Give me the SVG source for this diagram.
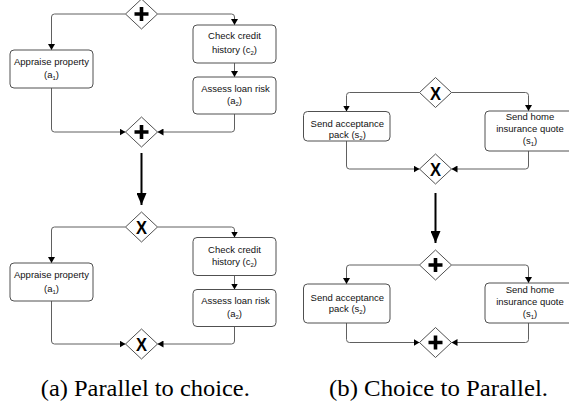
<svg xmlns="http://www.w3.org/2000/svg" width="569" height="407" viewBox="0 0 569 407">
<defs>
<style>
.box{fill:#fff;stroke:#505050;stroke-width:1}
.gw{fill:#fff;stroke:#505050;stroke-width:1}
.plus{stroke:#000;stroke-width:3.6;fill:none}
.xm{font-family:"Liberation Sans",Arial,sans-serif;font-weight:bold;font-size:19px;fill:#000;text-anchor:middle}
.con{fill:none;stroke:#606060;stroke-width:1}
.big{fill:none;stroke:#000;stroke-width:2}
.t{font-family:"Liberation Sans",Arial,sans-serif;font-size:9.5px;fill:#111;text-anchor:middle}
.sub{font-size:6px}
.cap{font-family:"Liberation Serif","Times New Roman",serif;font-size:23.5px;fill:#000;text-anchor:middle}
</style>
<marker id="ah" markerWidth="7" markerHeight="7" refX="6" refY="3.5" orient="auto" markerUnits="userSpaceOnUse">
<path d="M0,0 L6,3.5 L0,7 Z" fill="#000"/>
</marker>
<marker id="bh" markerWidth="12" markerHeight="10" refX="12" refY="5" orient="auto" markerUnits="userSpaceOnUse">
<path d="M0,0 L12,5 L0,10 Z" fill="#000"/>
</marker>
</defs>

<g id="connectors">
<path class="con" d="M125.5,14 H54.5 Q51.5,14 51.5,17 V50" marker-end="url(#ah)"/>
<path class="con" d="M157.5,14 H231.5 Q234.5,14 234.5,17 V25" marker-end="url(#ah)"/>
<path class="con" d="M234.5,63 V77" marker-end="url(#ah)"/>
<path class="con" d="M51.5,88 V129 Q51.5,132 54.5,132 H125.5" marker-end="url(#ah)"/>
<path class="con" d="M234.5,114 V129 Q234.5,132 231.5,132 H157.5" marker-end="url(#ah)"/>
<path class="big" d="M141.5,153 V205" marker-end="url(#bh)"/>
<path class="con" d="M125.5,227 H54.5 Q51.5,227 51.5,230 V263" marker-end="url(#ah)"/>
<path class="con" d="M157.5,227 H231.5 Q234.5,227 234.5,230 V237.5" marker-end="url(#ah)"/>
<path class="con" d="M234.5,275.5 V289.5" marker-end="url(#ah)"/>
<path class="con" d="M51.5,301 V341 Q51.5,344 54.5,344 H125.5" marker-end="url(#ah)"/>
<path class="con" d="M234.5,326.5 V341 Q234.5,344 231.5,344 H157.5" marker-end="url(#ah)"/>
<path class="con" d="M419.5,92.5 H349.5 Q346.5,92.5 346.5,95.5 V111.5" marker-end="url(#ah)"/>
<path class="con" d="M451.5,92.5 H525.5 Q528.5,92.5 528.5,95.5 V111" marker-end="url(#ah)"/>
<path class="con" d="M346.5,141 V166 Q346.5,169 349.5,169 H419.5" marker-end="url(#ah)"/>
<path class="con" d="M528.5,151 V166 Q528.5,169 525.5,169 H451.5" marker-end="url(#ah)"/>
<path class="big" d="M435.5,193 V243" marker-end="url(#bh)"/>
<path class="con" d="M419.5,265 H349.5 Q346.5,265 346.5,268 V284" marker-end="url(#ah)"/>
<path class="con" d="M451.5,265 H525.5 Q528.5,265 528.5,268 V283" marker-end="url(#ah)"/>
<path class="con" d="M346.5,323 V339.5 Q346.5,342.5 349.5,342.5 H419.5" marker-end="url(#ah)"/>
<path class="con" d="M528.5,323 V339.5 Q528.5,342.5 525.5,342.5 H451.5" marker-end="url(#ah)"/>
</g>

<g id="g1">
<path class="gw" d="M141.5,-1 L157.5,14 L141.5,29 L125.5,14 Z"/>
<path class="plus" d="M134.5,14 H148.5 M141.5,7 V21"/>
</g>
<g id="a1_top">
<rect class="box" x="10" y="50" width="83" height="38" rx="4"/>
<text class="t" x="51.5" y="65">Appraise property</text>
<text class="t" x="51.5" y="77.5">(a<tspan class="sub" dy="2">1</tspan><tspan dy="-2">)</tspan></text>
</g>
<g id="c2_top">
<rect class="box" x="193" y="25" width="83" height="38" rx="4"/>
<text class="t" x="234.5" y="39">Check credit</text>
<text class="t" x="234.5" y="52.5">history (c<tspan class="sub" dy="2">2</tspan><tspan dy="-2">)</tspan></text>
</g>
<g id="a2_top">
<rect class="box" x="193" y="77" width="83" height="37" rx="4"/>
<text class="t" x="235.5" y="91.5">Assess loan risk</text>
<text class="t" x="234.5" y="104">(a<tspan class="sub" dy="2">2</tspan><tspan dy="-2">)</tspan></text>
</g>
<g id="g2">
<path class="gw" d="M141.5,117 L157.5,132 L141.5,147 L125.5,132 Z"/>
<path class="plus" d="M134.5,132 H148.5 M141.5,125 V139"/>
</g>

<g id="g3">
<path class="gw" d="M141.5,212 L157.5,227 L141.5,242 L125.5,227 Z"/>
<text class="xm" x="141.5" y="234" textLength="11" lengthAdjust="spacingAndGlyphs">X</text>
</g>
<g id="a1_bot">
<rect class="box" x="10" y="263" width="83" height="38" rx="4"/>
<text class="t" x="51.5" y="278">Appraise property</text>
<text class="t" x="51.5" y="291.5">(a<tspan class="sub" dy="2">1</tspan><tspan dy="-2">)</tspan></text>
</g>
<g id="c2_bot">
<rect class="box" x="193" y="237.5" width="83" height="38" rx="4"/>
<text class="t" x="234.5" y="252.5">Check credit</text>
<text class="t" x="234.5" y="265">history (c<tspan class="sub" dy="2">2</tspan><tspan dy="-2">)</tspan></text>
</g>
<g id="a2_bot">
<rect class="box" x="193" y="289.5" width="83" height="37" rx="4"/>
<text class="t" x="235.5" y="304">Assess loan risk</text>
<text class="t" x="234.5" y="317">(a<tspan class="sub" dy="2">2</tspan><tspan dy="-2">)</tspan></text>
</g>
<g id="g4">
<path class="gw" d="M141.5,329 L157.5,344 L141.5,359 L125.5,344 Z"/>
<text class="xm" x="141.5" y="351" textLength="11" lengthAdjust="spacingAndGlyphs">X</text>
</g>

<g id="g5">
<path class="gw" d="M435.5,77.5 L451.5,92.5 L435.5,107.5 L419.5,92.5 Z"/>
<text class="xm" x="435.5" y="99.5" textLength="11" lengthAdjust="spacingAndGlyphs">X</text>
</g>
<g id="s2_top">
<rect class="box" x="303.5" y="111.5" width="86.5" height="29.5" rx="4"/>
<text class="t" x="347.3" y="126.5">Send acceptance</text>
<text class="t" x="347.3" y="137.5">pack (s<tspan class="sub" dy="2">2</tspan><tspan dy="-2">)</tspan></text>
</g>
<g id="s1_top">
<rect class="box" x="485" y="111" width="88" height="40" rx="4"/>
<text class="t" x="530" y="120">Send home</text>
<text class="t" x="530" y="131.5">insurance quote</text>
<text class="t" x="530" y="143.5">(s<tspan class="sub" dy="2">1</tspan><tspan dy="-2">)</tspan></text>
</g>
<g id="g6">
<path class="gw" d="M435.5,154 L451.5,169 L435.5,184 L419.5,169 Z"/>
<text class="xm" x="435.5" y="176" textLength="11" lengthAdjust="spacingAndGlyphs">X</text>
</g>

<g id="g7">
<path class="gw" d="M435.5,250 L451.5,265 L435.5,280 L419.5,265 Z"/>
<path class="plus" d="M428.5,265 H442.5 M435.5,258 V272"/>
</g>
<g id="s2_bot">
<rect class="box" x="303.5" y="284" width="86.5" height="39" rx="4"/>
<text class="t" x="347.3" y="300.5">Send acceptance</text>
<text class="t" x="347.3" y="311.5">pack (s<tspan class="sub" dy="2">2</tspan><tspan dy="-2">)</tspan></text>
</g>
<g id="s1_bot">
<rect class="box" x="485" y="283" width="88" height="40" rx="4"/>
<text class="t" x="530" y="293">Send home</text>
<text class="t" x="530" y="305">insurance quote</text>
<text class="t" x="530" y="317">(s<tspan class="sub" dy="2">1</tspan><tspan dy="-2">)</tspan></text>
</g>
<g id="g8">
<path class="gw" d="M435.5,327.5 L451.5,342.5 L435.5,357.5 L419.5,342.5 Z"/>
<path class="plus" d="M428.5,342.5 H442.5 M435.5,335.5 V349.5"/>
</g>

<text class="cap" x="145.3" y="395.5" textLength="209" lengthAdjust="spacingAndGlyphs">(a) Parallel to choice.</text>
<text class="cap" x="438.5" y="395.5" textLength="219" lengthAdjust="spacingAndGlyphs">(b) Choice to Parallel.</text>
</svg>
